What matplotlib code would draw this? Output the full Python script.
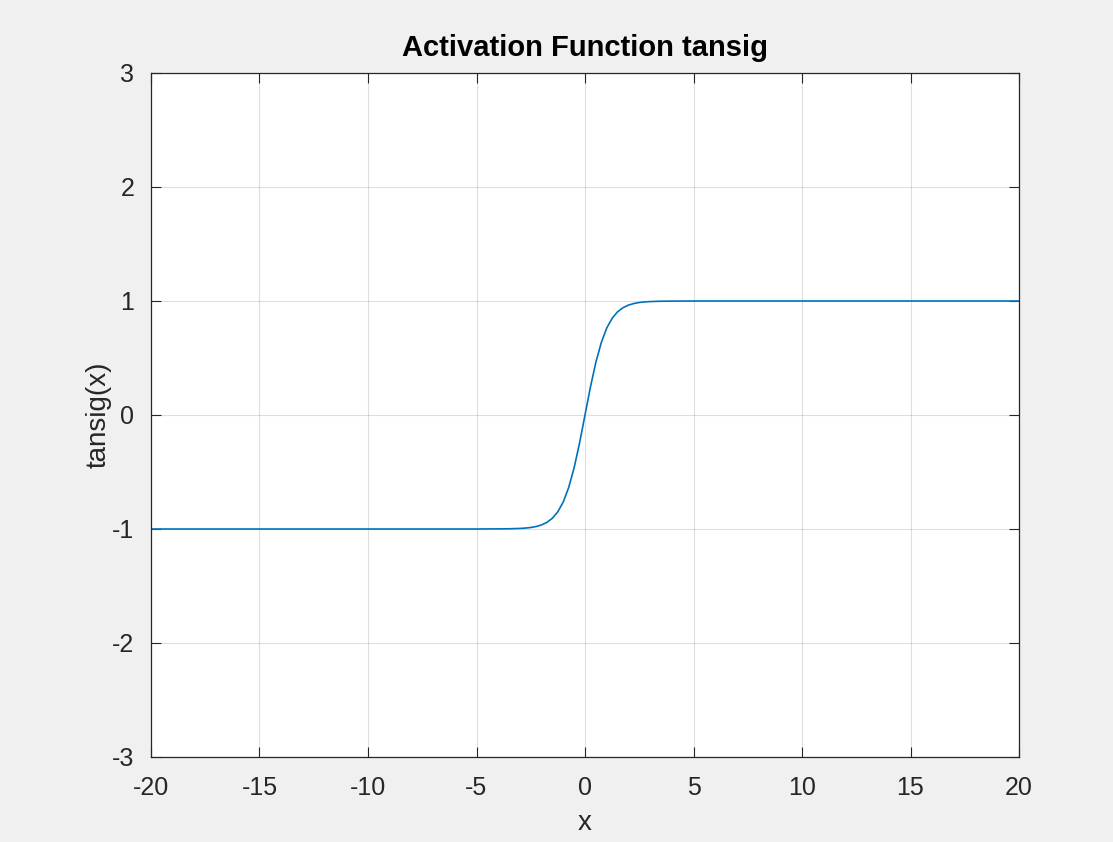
import numpy as np
import matplotlib
matplotlib.use("Agg")
from matplotlib import pyplot as plt

# values
x_vals = [-20, -10, -5, -4, -3.5, -3, -2.75, -2.5, -2.25, -2, -1.75, -1.5, -1.25,
          -1, -0.75, -0.5, -0.25, 0, 0.25, 0.5, 0.75, 1, 1.25, 1.5, 1.75, 2,
          2.25, 2.5, 2.75, 3, 3.5, 4, 5, 10, 20]
y_vals = [-1.0, -1.0, -1.0, -0.999, -0.998, -0.995, -0.992, -0.987, -0.978, -0.964,
          -0.941, -0.905, -0.848, -0.762, -0.635, -0.462, -0.245, 0.0, 0.245, 0.462,
          0.635, 0.762, 0.848, 0.905, 0.941, 0.964, 0.978, 0.987, 0.992, 0.995,
          0.998, 0.999, 1.0, 1.0, 1.0]
x_ticks = [-20, -15, -10, -5, 0, 5, 10, 15, 20]
y_ticks = [-3, -2, -1, 0, 1, 2, 3]

plt.rcParams["font.family"] = ["Liberation Sans", "DejaVu Sans"]
plt.rcParams["axes.unicode_minus"] = False

fig = plt.figure(figsize=(11.13, 8.42), dpi=100, facecolor="#f0f0f0")
ax = fig.add_axes([151 / 1113, 1 - 757 / 842, 868 / 1113, 684 / 842])
ax.set_facecolor("white")

ax.plot(x_vals, y_vals, color="#0072BD", lw=1.2)

ax.set_xlim(-20, 20)
ax.set_ylim(-3, 3)
ax.set_xticks(x_ticks)
ax.set_yticks(y_ticks)
ax.grid(True, color="#262626", alpha=0.15, lw=0.8)
ax.set_axisbelow(True)

ax.tick_params(direction="in", length=7, width=0.8, colors="#262626",
               labelsize=18, top=True, right=True)
ax.tick_params(axis="x", pad=14)
ax.tick_params(axis="y", pad=12)
for sp in ax.spines.values():
    sp.set_color("#262626")
    sp.set_linewidth(0.9)

ax.set_title("Activation Function tansig", fontsize=21, fontweight="bold",
             color="black", pad=12)
ax.set_xlabel("x", fontsize=20, color="#262626", labelpad=7)
ax.set_ylabel("tansig(x)", fontsize=20, color="#262626", labelpad=0)

fig.savefig("out.png", dpi=100, facecolor=fig.get_facecolor())
